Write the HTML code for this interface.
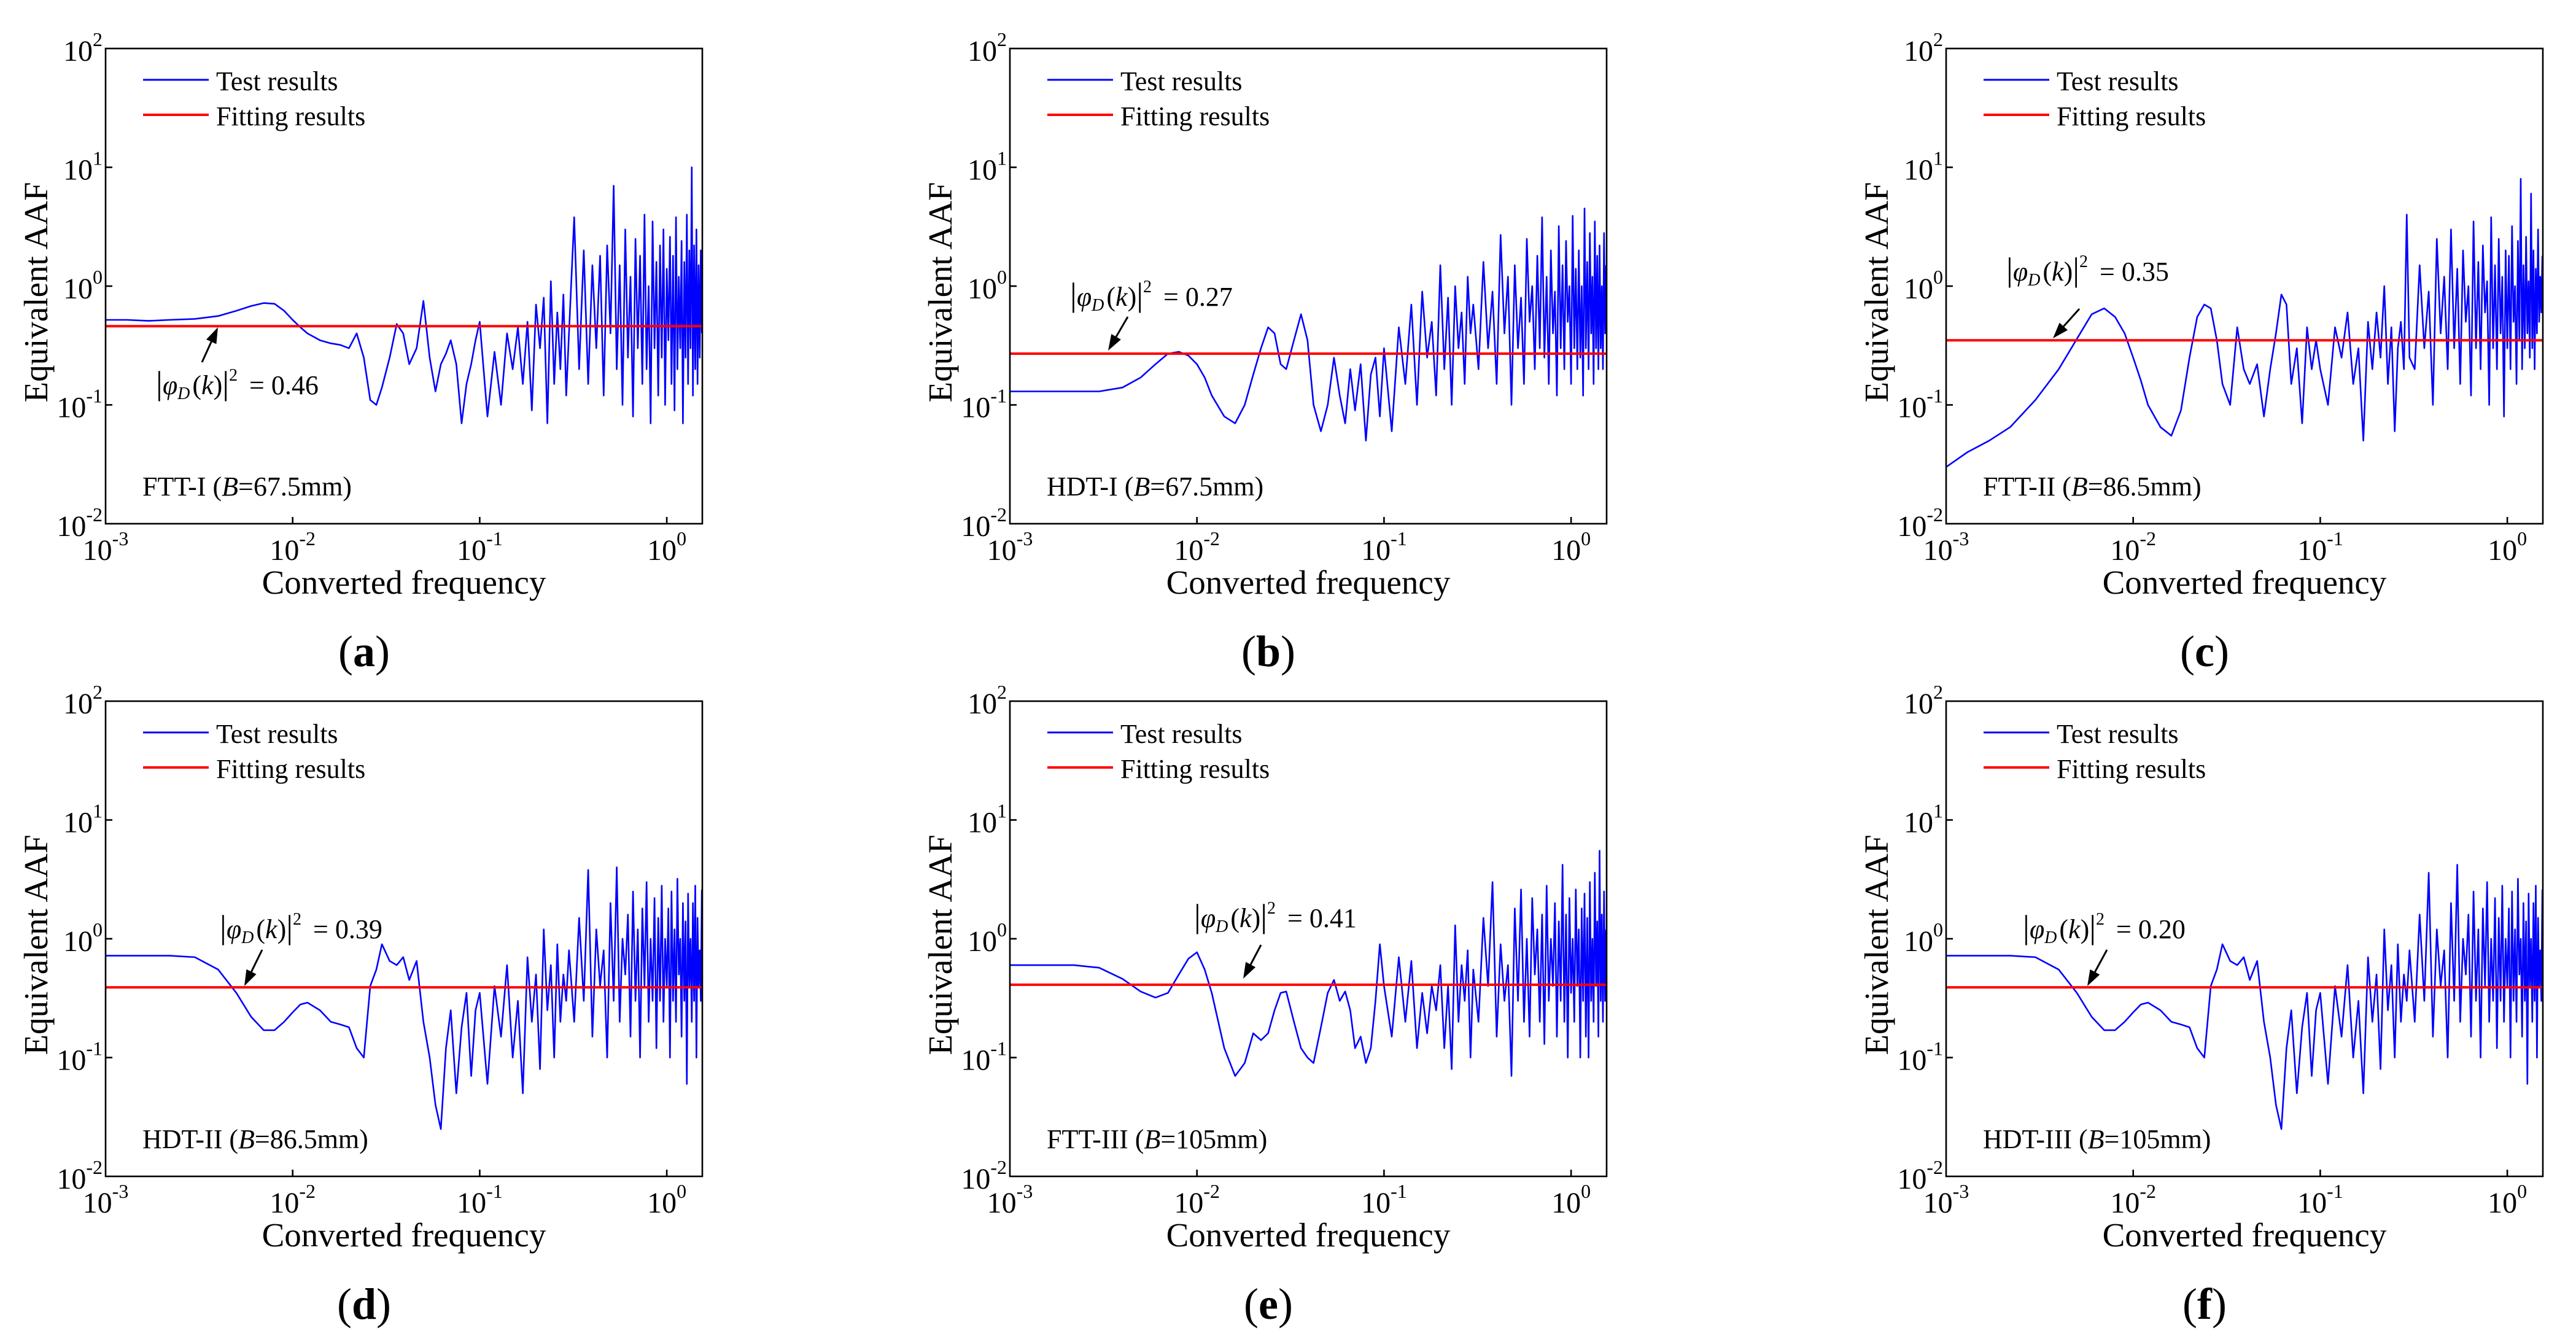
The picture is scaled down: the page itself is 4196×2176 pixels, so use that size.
<!DOCTYPE html>
<html><head><meta charset="utf-8"><style>
html,body{margin:0;padding:0;background:#fff;}
svg{display:block;font-family:"Liberation Serif",serif;}
</style></head><body>
<svg id="fig" width="4196" height="2176" viewBox="0 0 4196 2176" xmlns="http://www.w3.org/2000/svg">
<rect x="0" y="0" width="4196" height="2176" fill="#fff"/>
</svg>
<script>
// ---- data ----
const freqs = [
0.001,0.0013,0.0017,0.0022,0.003,0.004,0.005,0.006,0.007,0.008,
0.009,0.010,0.011,0.012,0.014,0.016,0.018,0.020,0.022,0.024,
0.026,0.028,0.030,0.033,0.036,0.039,0.042,0.046,0.050,0.054,
0.058,0.062,0.066,0.070,0.075,0.080,0.085,0.090,0.095,0.100,
0.11,0.12,0.13,0.14,0.15,0.16,0.17,0.18,0.19,0.20,
0.21,0.22,0.23,0.24,0.25,0.26,0.27,0.28,0.29,0.30,
0.32,0.34,0.36,0.38,0.40,0.42,0.44,0.46,0.48,0.50,
0.52,0.54,0.56,0.58,0.60,0.62,0.64,0.66,0.68,0.70,
0.72,0.74,0.76,0.78,0.80,0.82,0.84,0.86,0.88,0.90,
0.92,0.94,0.96,0.98,1.00,1.02,1.04,1.06,1.08,1.10,
1.12,1.14,1.16,1.18,1.20,1.22,1.24,1.26,1.28,1.30,
1.32,1.34,1.36,1.38,1.40,1.42,1.44,1.46,1.48,1.50,
1.52,1.54];
const testA = [
.52,.52,.51,.52,.53,.56,.62,.68,.72,.71,.62,.52,.45,.40,.35,.33,.32,.30,.40,.25,
.11,.10,.14,.25,.48,.40,.22,.30,.75,.25,.13,.22,.27,.35,.22,.07,.15,.22,.35,.50,
.08,.28,.10,.40,.20,.45,.15,.50,.09,.70,.30,.80,.07,1.1,.15,.60,.20,.85,.12,.40,
3.8,0.2,2.0,0.15,1.5,0.3,1.8,0.12,2.2,0.4,7.0,0.2,1.5,0.1,3.0,0.25,1.2,0.08,2.5,0.3,
1.8,0.15,4.0,0.2,1.0,0.07,3.5,0.3,1.6,0.12,2.2,0.25,3.0,0.1,1.4,0.35,2.6,0.15,1.8,0.09,
3.8,0.2,1.2,0.3,2.4,0.07,1.6,0.25,4.0,0.15,2.0,0.3,10,0.12,2.2,0.2,3.0,0.15,1.5,0.25,2.0,0.4];
const testB = [
.13,.13,.13,.13,.13,.14,.17,.22,.27,.28,.26,.22,.17,.12,.08,.07,.10,.18,.30,.45,
.40,.22,.20,.35,.58,.35,.10,.06,.10,.25,.12,.07,.20,.09,.22,.05,.18,.25,.08,.30,
.06,.45,.15,.70,.10,.90,.25,.50,.12,1.5,.20,.80,.10,1.0,.30,.60,.15,1.2,.40,.70,
0.2,1.6,0.3,0.9,0.15,2.7,0.4,1.2,0.1,1.5,0.3,0.8,0.15,2.5,0.5,1.0,0.2,1.8,0.3,3.8,
0.25,1.2,0.15,2.0,0.4,0.9,0.12,3.2,0.3,1.5,0.2,2.4,0.5,1.0,0.15,3.9,0.3,1.4,0.2,2.0,
0.25,1.0,0.12,4.5,0.3,1.6,0.2,2.8,0.4,1.2,0.15,3.5,0.3,1.8,0.2,2.2,0.3,1.0,0.2,2.8,0.4,1.5];
const testC = [
.03,.04,.05,.065,.11,.2,.36,.58,.65,.55,.40,.25,.16,.10,.065,.055,.09,.25,.55,.70,
.65,.35,.15,.10,.45,.20,.15,.22,.08,.20,.40,.85,.70,.15,.30,.07,.45,.20,.35,.20,
.10,.45,.25,.60,.15,.30,.05,.50,.20,.60,.25,1.0,.15,.45,.06,.30,.50,.20,4.0,.25,
0.2,1.5,0.3,0.9,0.1,2.5,0.4,1.2,0.2,3.0,0.3,1.4,0.15,2.0,0.5,1.0,0.12,3.5,0.3,1.6,
0.2,2.2,0.6,1.1,0.1,3.8,0.3,1.5,0.2,2.5,0.4,1.2,0.08,2.0,0.3,1.8,0.2,3.2,0.5,1.0,
0.15,2.4,0.35,8.0,0.2,1.5,0.3,2.6,0.4,1.1,0.25,6.0,0.3,2.0,0.2,1.4,0.4,3.0,0.5,1.2,0.6,1.8];
const testD = [
.72,.72,.72,.72,.70,.55,.35,.22,.17,.17,.20,.24,.28,.29,.25,.20,.19,.18,.12,.10,
.40,.55,.90,.65,.60,.70,.45,.65,.20,.10,.04,.025,.12,.25,.05,.18,.35,.07,.25,.35,
.06,.40,.15,.60,.10,.30,.05,.70,.20,.50,.08,1.2,.25,.60,.10,.90,.20,.50,.30,.80,
0.2,1.5,0.3,3.8,0.15,1.2,0.4,0.8,0.1,2.0,0.3,4.0,0.2,1.0,0.5,1.6,0.15,2.5,0.3,1.2,
0.1,1.8,0.4,3.0,0.2,1.0,0.3,2.2,0.12,1.5,0.3,2.8,0.2,1.0,0.4,1.8,0.1,2.5,0.3,1.2,
0.2,3.2,0.5,1.0,0.15,2.0,0.3,1.4,0.06,2.4,0.4,1.0,0.2,2.0,0.3,2.8,0.1,1.5,0.4,0.8,0.3,2.6];
const testE = [
.60,.60,.60,.60,.57,.46,.36,.32,.35,.50,.68,.77,.55,.35,.12,.07,.09,.16,.14,.16,
.25,.35,.36,.20,.12,.10,.09,.18,.35,.45,.30,.36,.25,.12,.15,.09,.12,.30,.90,.40,
.15,.70,.20,.65,.12,.35,.16,.40,.25,.60,.12,.40,.08,1.3,.20,.60,.30,.80,.10,.55,
0.2,1.5,0.4,3.0,0.15,0.9,0.3,0.6,0.07,1.8,0.3,2.6,0.2,1.0,0.15,2.2,0.5,1.2,0.2,1.6,
0.13,2.8,0.3,1.0,0.4,2.0,0.15,1.4,0.3,4.2,0.2,1.6,0.1,2.2,0.35,1.0,0.2,2.6,0.4,1.2,
0.1,1.8,0.3,2.4,0.15,1.5,0.1,3.0,0.3,1.0,0.2,3.6,0.4,1.4,0.15,5.5,0.3,1.6,0.2,2.5,0.3,1.2];
const testF = [
.72,.72,.72,.72,.70,.55,.35,.22,.17,.17,.20,.24,.28,.29,.25,.20,.19,.18,.12,.10,
.40,.55,.90,.65,.60,.70,.45,.65,.20,.10,.04,.025,.12,.25,.05,.18,.35,.07,.25,.35,
.06,.40,.15,.60,.10,.30,.05,.70,.20,.50,.08,1.2,.25,.60,.10,.90,.20,.50,.30,.80,
0.2,1.6,0.3,3.6,0.15,1.2,0.4,0.8,0.1,2.0,0.3,4.2,0.2,1.0,0.5,1.6,0.15,2.5,0.3,1.2,
0.1,1.8,0.4,3.0,0.2,1.0,0.3,2.2,0.12,1.5,0.3,2.8,0.2,1.0,0.4,1.8,0.1,2.5,0.3,1.2,
0.2,3.2,0.5,1.0,0.15,2.0,0.3,1.4,0.06,2.4,0.4,1.0,0.2,2.0,0.3,2.8,0.1,1.5,0.4,0.8,0.3,2.6];
const fitValues = [0.46, 0.27, 0.35, 0.39, 0.41, 0.39];
const fitLabels = ["0.46", "0.27", "0.35", "0.39", "0.41", "0.20"];
const caseNames = ["FTT-I", "HDT-I", "FTT-II", "HDT-II", "FTT-III", "HDT-III"];
const widthLabels = ["67.5mm", "67.5mm", "86.5mm", "86.5mm", "105mm", "105mm"];
const panelLetters = ["a", "b", "c", "d", "e", "f"];
const xTickExps = [-3, -2, -1, 0];
const yTickExps = [-2, -1, 0, 1, 2];

// ---- layout (not data) ----
const series = [testA, testB, testC, testD, testE, testF];
const origins = [[172,79],[1645,79],[3170,79],[172,1142],[1645,1142],[3170,1142]];
const W = 972, H = 774;
const XMIN = -3, XMAX = 0.19, YMIN = -2, YMAX = 2;
const annot = [
  [82,563, 157,511, 183,454],
  [98,419, 192,437, 160,492],
  [98,378, 217,424, 174,472],
  [186,386, 255,405, 226,464],
  [300,368, 409,397, 380,452],
  [125,386, 262,405, 230,464]
];
const NS = "http://www.w3.org/2000/svg";
const svg = document.getElementById('fig');
function mk(tag, attrs, parent){
  const e = document.createElementNS(NS, tag);
  for (const k in attrs) e.setAttribute(k, attrs[k]);
  (parent||svg).appendChild(e);
  return e;
}
function tsp(parent, txt, attrs){
  const t = document.createElementNS(NS,'tspan');
  for (const k in attrs) t.setAttribute(k, attrs[k]);
  t.textContent = txt; parent.appendChild(t); return t;
}

for (let p = 0; p < 6; p++){
  const [ox, oy] = origins[p];
  const xs = v => ox + (Math.log10(v) - XMIN) / (XMAX - XMIN) * W;
  const ys = v => oy + H - (Math.log10(v) - YMIN) / (YMAX - YMIN) * H;
  const g = mk('g', {});
  
  

  const clipId = 'clip' + p;
  const cp = mk('clipPath', {id: clipId}, g);
  mk('rect', {x: ox, y: oy, width: W, height: H}, cp);

  const data = series[p];
  let d = '';
  const n = Math.min(data.length, freqs.length);
  for (let i = 0; i < n; i++){
    d += (i ? 'L' : 'M') + xs(freqs[i]).toFixed(1) + ',' + ys(data[i]).toFixed(1);
  }
  const line = mk('path', {d: d, fill: 'none', stroke: '#0000ff', 'stroke-width': 2.6, 'stroke-linejoin': 'round', 'clip-path': 'url(#' + clipId + ')'}, g);
  
  

  const fy = ys(fitValues[p]);
  const fl = mk('line', {x1: ox, x2: ox + W, y1: fy, y2: fy, stroke: '#ff0000', 'stroke-width': 4}, g);
  
  

  const fr = mk('rect', {x: ox, y: oy, width: W, height: H, fill: 'none', stroke: '#000', 'stroke-width': 2.6}, g);
  
  

  yTickExps.forEach(e => {
    const y = ys(Math.pow(10, e));
    if (e > YMIN && e < YMAX) mk('line', {x1: ox, x2: ox + 11, y1: y, y2: y, stroke: '#000', 'stroke-width': 2.6}, g);
    const t = mk('text', {x: ox - 5, y: y + 20, 'text-anchor': 'end', 'font-size': 48}, g);
    
    
    tsp(t, '10', {});
    tsp(t, String(e), {dy: -24, 'font-size': 32});
  });
  xTickExps.forEach(e => {
    const x = xs(Math.pow(10, e));
    if (e > XMIN) mk('line', {x1: x, x2: x, y1: oy + H, y2: oy + H - 11, stroke: '#000', 'stroke-width': 2.6}, g);
    const t = mk('text', {x: x, y: oy + H + 59, 'text-anchor': 'middle', 'font-size': 48}, g);
    
    
    tsp(t, '10', {});
    tsp(t, String(e), {dy: -24, 'font-size': 32});
  });

  const xt = mk('text', {x: ox + W / 2, y: oy + H + 114, 'text-anchor': 'middle', 'font-size': 55}, g);
  xt.textContent = 'Converted frequency';
  
  
  const yt = mk('text', {x: 0, y: 0, 'text-anchor': 'middle', 'font-size': 55, transform: 'translate(' + (ox - 95) + ',' + (oy + H / 2 + 10) + ') rotate(-90)'}, g);
  yt.textContent = 'Equivalent AAF';
  
  

  const lg = mk('g', {}, g);
  
  
  mk('line', {x1: ox + 61, x2: ox + 168, y1: oy + 51, y2: oy + 51, stroke: '#0000ff', 'stroke-width': 3}, lg);
  const l1 = mk('text', {x: ox + 180, y: oy + 68, 'font-size': 44}, lg);
  l1.textContent = 'Test results';
  
  
  mk('line', {x1: ox + 61, x2: ox + 168, y1: oy + 108, y2: oy + 108, stroke: '#ff0000', 'stroke-width': 4}, lg);
  const l2 = mk('text', {x: ox + 180, y: oy + 125, 'font-size': 44}, lg);
  l2.textContent = 'Fitting results';
  
  

  const cl = mk('text', {x: ox + 60, y: oy + H - 46, 'font-size': 44}, g);
  
  
  tsp(cl, caseNames[p] + ' (', {});
  tsp(cl, 'B', {'font-style': 'italic'});
  tsp(cl, '=' + widthLabels[p] + ')', {});

  const a = annot[p];
  const at = mk('text', {x: ox + a[0], y: oy + a[1], 'font-size': 44}, g);
  
  
  tsp(at, '|', {'font-size': 54});
  tsp(at, 'φ', {'font-style': 'italic'});
  tsp(at, 'D', {'font-style': 'italic', 'font-size': 28, dy: 8});
  tsp(at, '(', {dy: -8, dx: 4});
  tsp(at, 'k', {'font-style': 'italic'});
  tsp(at, ')', {});
  tsp(at, '|', {'font-size': 54});
  tsp(at, '2', {'font-size': 28, dy: -22});
  tsp(at, ' = ' + fitLabels[p], {dy: 22, dx: 8});
  const tx = ox + a[2], ty = oy + a[3], hx = ox + a[4], hy = oy + a[5];
  const ang = Math.atan2(hy - ty, hx - tx);
  const hl = 26, hw = 9;
  const bx = hx - hl * Math.cos(ang), by = hy - hl * Math.sin(ang);
  const arr = mk('g', {}, g);
  
  
  mk('line', {x1: tx, y1: ty, x2: bx, y2: by, stroke: '#000', 'stroke-width': 3}, arr);
  mk('polygon', {points: hx + ',' + hy + ' ' + (bx - hw * Math.sin(ang)) + ',' + (by + hw * Math.cos(ang)) + ' ' + (bx + hw * Math.sin(ang)) + ',' + (by - hw * Math.cos(ang)), fill: '#000'}, arr);

  const pl = mk('text', {x: ox + W / 2 - 65, y: oy + H + 232, 'text-anchor': 'middle', 'font-size': 72}, g);
  
  
  tsp(pl, '(', {});
  tsp(pl, panelLetters[p], {'font-weight': 'bold'});
  tsp(pl, ')', {});
}
</script>
</body></html>
